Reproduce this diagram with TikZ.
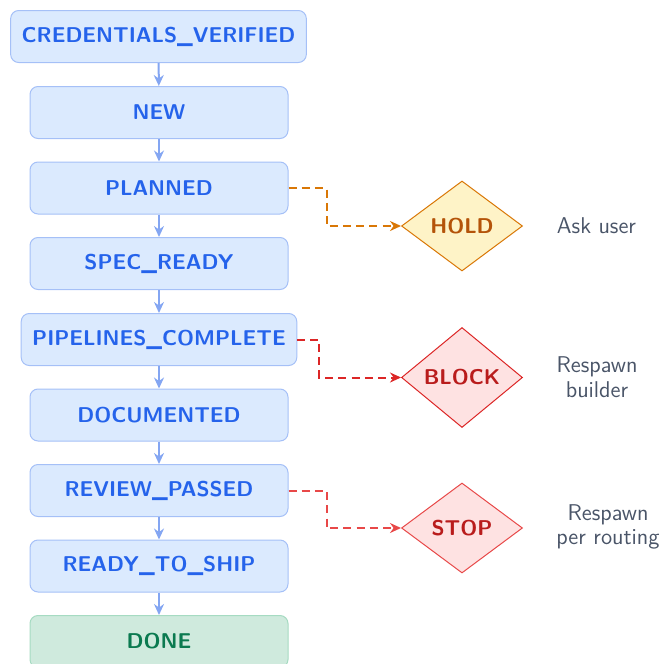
\documentclass[tikz,border=0pt]{standalone}
\usepackage{xcolor}
\usepackage{tikz}
\usetikzlibrary{arrows.meta,shapes.geometric}

\definecolor{stepfill}{HTML}{DBEAFE}
\definecolor{stepline}{HTML}{A5C0F7}
\definecolor{steptext}{HTML}{2563EB}
\definecolor{steparrow}{HTML}{84A6F2}
\definecolor{donefill}{HTML}{CFEADD}
\definecolor{doneline}{HTML}{A6DBC2}
\definecolor{donetext}{HTML}{0B7A50}
\definecolor{holdfill}{HTML}{FEF3C7}
\definecolor{holdline}{HTML}{D97706}
\definecolor{holdtext}{HTML}{B45309}
\definecolor{blockfill}{HTML}{FEE2E2}
\definecolor{blockline}{HTML}{DC2626}
\definecolor{stopline}{HTML}{E84848}
\definecolor{redtext}{HTML}{B91C1C}
\definecolor{notetext}{HTML}{4A5568}

\tikzset{
  statebox/.style={draw=stepline, fill=stepfill, text=steptext, rounded corners=4pt,
    line width=0.5pt, minimum width=129pt, minimum height=26pt, inner xsep=5.5pt,
    font=\fontsize{10.7}{12}\sffamily\bfseries},
  donebox/.style={statebox, draw=doneline, fill=donefill, text=donetext},
  gatebox/.style={diamond, aspect=1.35, line width=0.5pt, minimum width=60.5pt,
    minimum height=45pt, inner sep=1pt, font=\fontsize{10.7}{12}\sffamily\bfseries},
  flow/.style={-{Stealth[length=5.5pt,width=5pt,inset=1.8pt]}, draw=steparrow, line width=1pt},
  escape/.style={-{Stealth[length=5.5pt,width=5pt,inset=1.8pt]}, dash pattern=on 4pt off 2.6pt, line width=1pt},
  note/.style={font=\fontsize{11.4}{12.4}\sffamily, text=notetext, align=center}
}

\begin{document}
\begin{tikzpicture}[x=0.5pt, y=-0.5pt]
\useasboundingbox (0,0) rectangle (662,664);

% Catena principale
\node[statebox] (cred) at (158.5,36.5) {CREDENTIALS\_VERIFIED};
\node[statebox] (new) at (159,112.5) {NEW};
\node[statebox] (planned) at (159,188) {PLANNED};
\node[statebox] (spec) at (159,263.5) {SPEC\_READY};
\node[statebox] (pipes) at (159,339.5) {PIPELINES\_COMPLETE};
\node[statebox] (docs) at (159,415) {DOCUMENTED};
\node[statebox] (review) at (159,490.5) {REVIEW\_PASSED};
\node[statebox] (ship) at (159,566) {READY\_TO\_SHIP};
\node[donebox] (done) at (159,641.5) {DONE};

\draw[flow] (cred) -- (new);
\draw[flow] (new) -- (planned);
\draw[flow] (planned) -- (spec);
\draw[flow] (spec) -- (pipes);
\draw[flow] (pipes) -- (docs);
\draw[flow] (docs) -- (review);
\draw[flow] (review) -- (ship);
\draw[flow] (ship) -- (done);

% Uscite laterali
\node[gatebox, draw=holdline, fill=holdfill, text=holdtext] (hold) at (462,226) {HOLD};
\node[gatebox, draw=blockline, fill=blockfill, text=redtext, minimum height=50pt] (block) at (462,377.5) {BLOCK};
\node[gatebox, draw=stopline, fill=blockfill, text=redtext] (stop) at (462,528) {STOP};

\draw[escape, draw=holdline] (planned.east) -- ++(38,0) |- (hold.west);
\draw[escape, draw=blockline] (pipes.east) -- ++(22,0) |- (block.west);
\draw[escape, draw=stopline] (review.east) -- ++(38,0) |- (stop.west);

% Note
\node[note] (asknote) at (596.5,226) {Ask user};
\node[note] (blocknote) at (597,377) {Respawn\\builder};
\node[note] (stopnote) at (608,527) {Respawn\\per routing};

\end{tikzpicture}
\end{document}
